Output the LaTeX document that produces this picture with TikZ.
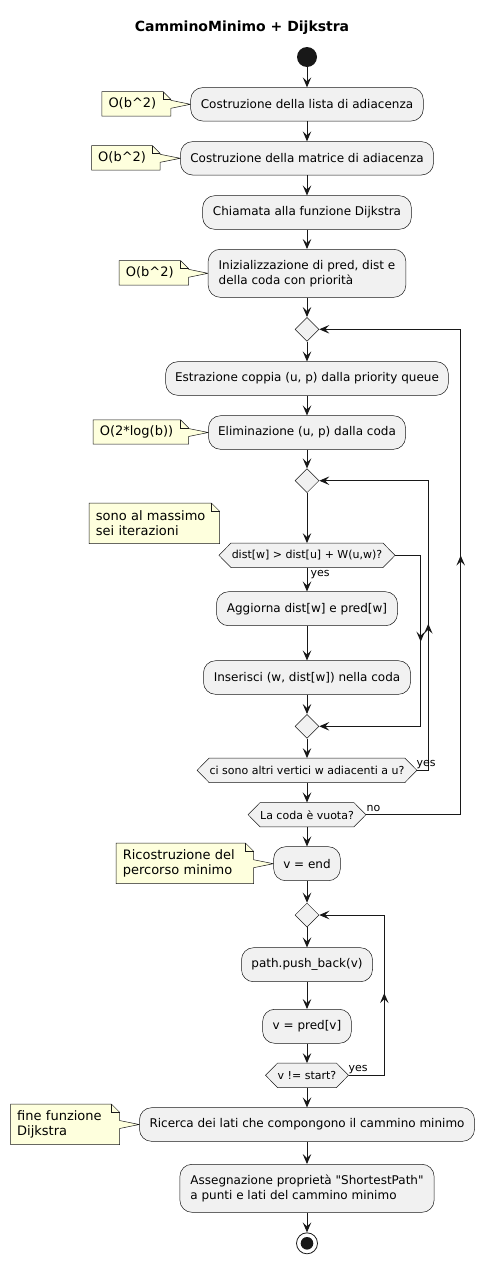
\documentclass[tikz,border=0pt]{standalone}
\usepackage{fontspec}
\setmainfont[Ligatures=TeXOff]{DejaVu Sans}
\usetikzlibrary{arrows.meta,shapes.geometric,backgrounds,calc,decorations.markings}
\definecolor{actfill}{HTML}{F1F1F1}
\definecolor{notefill}{HTML}{FEFFDD}
\definecolor{ink}{HTML}{181818}
\tikzset{
  act/.style={rectangle, rounded corners=12pt, fill=actfill, draw=ink, line width=0.5pt,
    font=\fontsize{12}{15}\selectfont, inner sep=0pt, align=center, text=black},
  acttwo/.style={act, align=left, inner xsep=10.5pt},
  arrowtip/.style={-{Stealth[length=10pt,width=8.5pt,inset=4pt]}},
  flow/.style={draw=ink, line width=1pt, arrowtip},
  hexnode/.style={rectangle, inner sep=0pt, minimum height=24pt, font=\fontsize{11}{13}\selectfont},
  hexline/.style={fill=actfill, draw=ink, line width=0.5pt},
  dia/.style={diamond, fill=actfill, draw=ink, line width=0.5pt, minimum width=24pt,
    minimum height=24pt, inner sep=0pt},
  notenode/.style={rectangle, inner xsep=6.5pt, inner ysep=0pt, align=left,
    font=\fontsize{13}{15}\selectfont},
  notebody/.style={fill=notefill, draw=ink, line width=0.5pt, line join=miter},
  lbl/.style={font=\fontsize{11}{13}\selectfont, inner sep=0pt},
  midarrow/.style={postaction={decorate}, decoration={markings,
    mark=at position #1 with {\arrow{Stealth[length=10pt,width=8.5pt,inset=4pt]}}}}
}
\newcommand\drawhex[1]{%
  \begin{pgfonlayer}{background}
  \draw[hexline] (#1.west) -- ([xshift=12pt]#1.north west) -- ([xshift=-12pt]#1.north east)
    -- (#1.east) -- ([xshift=-12pt]#1.south east) -- ([xshift=12pt]#1.south west) -- cycle;
  \end{pgfonlayer}}
\newcommand\drawnoteplain[1]{%
  \begin{pgfonlayer}{background}
  \draw[notebody] (#1.north west) -- ([xshift=-8pt]#1.north east) -- ([yshift=-8pt]#1.north east)
    -- (#1.south east) -- (#1.south west) -- cycle;
  \draw[notebody, fill=none] ([xshift=-8pt]#1.north east) -- ([xshift=-8pt,yshift=-8pt]#1.north east)
    -- ([yshift=-8pt]#1.north east);
  \end{pgfonlayer}}
\newcommand\drawnotept[2]{%
  \begin{pgfonlayer}{background}
  \draw[notebody] (#1.north west) -- ([xshift=-8pt]#1.north east) -- ([yshift=-8pt]#1.north east)
    -- ($(#1.east |- #2.west)+(0pt,4pt)$) -- (#2.west) -- ($(#1.east |- #2.west)+(0pt,-4pt)$)
    -- (#1.south east) -- (#1.south west) -- cycle;
  \draw[notebody, fill=none] ([xshift=-8pt]#1.north east) -- ([xshift=-8pt,yshift=-8pt]#1.north east)
    -- ([yshift=-8pt]#1.north east);
  \end{pgfonlayer}}
\begin{document}
\begin{tikzpicture}[x=1pt, y=-1pt]
\useasboundingbox (0,0) rectangle (485,1264);
% title
\node[font=\fontsize{14}{16}\selectfont\bfseries] (title) at (242,28) {CamminoMinimo + Dijkstra};
% start
\node[circle, fill=ink, minimum size=20pt, inner sep=0pt] (start) at (307,57) {};
% activities
\node[act, minimum width=232.6pt, minimum height=33.4pt] (b1) at (307,104.3) {Costruzione della lista di adiacenza};
\node[act, minimum width=253pt, minimum height=33.4pt] (b2) at (307,158.3) {Costruzione della matrice di adiacenza};
\node[act, minimum width=208.7pt, minimum height=33.6pt] (b3) at (307,212.5) {Chiamata alla funzione Dijkstra};
\node[acttwo, minimum height=48pt, minimum width=197pt] (b4) at (307,273.3) {Inizializzazione di pred, dist e\\della coda con priorità};
\node[dia] (d1) at (307,329.3) {};
\node[act, minimum width=282.6pt, minimum height=33.6pt] (b5) at (307,378.5) {Estrazione coppia (u, p) dalla priority queue};
\node[act, minimum width=197pt, minimum height=33.6pt] (b6) at (307,432.5) {Eliminazione (u, p) dalla coda};
\node[dia] (d2) at (307,480.7) {};
\node[hexnode, minimum width=175.7pt] (hA) at (307,555.3) {dist[w] > dist[u] + W(u,w)?};
\drawhex{hA}
\node[act, minimum width=181pt, minimum height=34pt] (b7) at (307,608.7) {Aggiorna dist[w] e pred[w]};
\node[act, minimum width=207pt, minimum height=33.6pt] (b8) at (307,677.5) {Inserisci (w, dist[w]) nella coda};
\node[dia] (d3) at (307,726.3) {};
\node[hexnode, minimum width=219.4pt] (hB) at (307,770.3) {ci sono altri vertici w adiacenti a u?};
\drawhex{hB}
\node[hexnode, minimum width=117.4pt] (hC) at (307,814.7) {La coda è vuota?};
\drawhex{hC}
\node[act, minimum width=66.7pt, minimum height=34pt] (bE) at (307,863.7) {v = end};
\node[dia] (d4) at (307,915) {};
\node[act, minimum width=131pt, minimum height=34pt] (bP) at (307,964.7) {path.push\_back(v)};
\node[act, minimum width=88.7pt, minimum height=34pt] (bV) at (307,1026.3) {v = pred[v]};
\node[hexnode, minimum width=82.6pt] (hD) at (307,1075.3) {v != start?};
\drawhex{hD}
\node[act, minimum width=335pt, minimum height=33.6pt] (bR) at (307,1124.5) {Ricerca dei lati che compongono il cammino minimo};
\node[acttwo, minimum height=48pt, minimum width=253pt] (bA) at (307,1188.3) {Assegnazione proprietà "ShortestPath"\\a punti e lati del cammino minimo};
% stop
\node[circle, draw=ink, line width=0.8pt, fill=white, minimum size=21pt, inner sep=0pt,
  path picture={\fill[ink] (path picture bounding box.center) circle (6.3pt);}] (stop) at (307,1243.3) {};
% notes
\node[notenode, text width=55.7pt, minimum height=24.3pt] (n1) at (136.35,103.85) {O(b\textasciicircum 2)};
\drawnotept{n1}{b1}
\node[notenode, text width=55.3pt, minimum height=24.3pt] (n2) at (125.85,157.85) {O(b\textasciicircum 2)};
\drawnotept{n2}{b2}
\node[notenode, text width=56pt, minimum height=24.3pt] (n4) at (153.8,272.85) {O(b\textasciicircum 2)};
\drawnotept{n4}{b4}
\node[notenode, text width=82pt, minimum height=24pt] (n6) at (140.8,432) {O(2*log(b))};
\drawnotept{n6}{b6}
\node[notenode, text width=117pt, minimum height=40pt] (ns) at (154.3,523.3) {sono al massimo\\sei iterazioni};
\drawnoteplain{ns}
\node[notenode, text width=124pt, minimum height=40pt] (nr) at (184.8,863.3) {Ricostruzione del\\percorso minimo};
\drawnotept{nr}{bE}
\node[notenode, text width=95.6pt, minimum height=40pt] (nf) at (65,1124.3) {fine funzione\\Dijkstra};
\drawnotept{nf}{bR}
% coordinates for loops
\coordinate (xa) at (420.7,0);
\coordinate (xb) at (428.3,0);
\coordinate (xc) at (460.7,0);
\coordinate (xd) at (384.3,0);
% straight connectors
\draw[flow] (start.south) -- (b1.north);
\draw[flow] (b1.south) -- (b2.north);
\draw[flow] (b2.south) -- (b3.north);
\draw[flow] (b3.south) -- (b4.north);
\draw[flow] (b4.south) -- (d1.north);
\draw[flow] (d1.south) -- (b5.north);
\draw[flow] (b5.south) -- (b6.north);
\draw[flow] (b6.south) -- (d2.north);
\draw[flow] (d2.south) -- (hA.north);
\draw[flow] (hA.south) -- (b7.north);
\draw[flow] (b7.south) -- (b8.north);
\draw[flow] (b8.south) -- (d3.north);
\draw[flow] (d3.south) -- (hB.north);
\draw[flow] (hB.south) -- (hC.north);
\draw[flow] (hC.south) -- (bE.north);
\draw[flow] (bE.south) -- (d4.north);
\draw[flow] (d4.south) -- (bP.north);
\draw[flow] (bP.south) -- (bV.north);
\draw[flow] (bV.south) -- (hD.north);
\draw[flow] (hD.south) -- (bR.north);
\draw[flow] (bR.south) -- (bA.north);
\draw[flow] (bA.south) -- (stop.north);
% loops
\draw[flow, midarrow=112pt] (hA.east) -| (xa |- d3.east) -- (d3.east);
\draw[flow, midarrow=158pt] (hB.east) -| (xb |- d2.east) -- (d2.east);
\draw[flow, midarrow=354pt] (hC.east) -| (xc |- d1.east) -- (d1.east);
\draw[flow, midarrow=118pt] (hD.east) -| (xd |- d4.east) -- (d4.east);
% labels
\node[lbl, anchor=west] (yA) at (310.5,575) {yes};
\node[lbl, anchor=west] (yB) at (416.5,764.3) {yes};
\node[lbl, anchor=west] (nC) at (366.5,808.3) {no};
\node[lbl, anchor=west] (yD) at (348.5,1069.3) {yes};
\end{tikzpicture}
\end{document}
